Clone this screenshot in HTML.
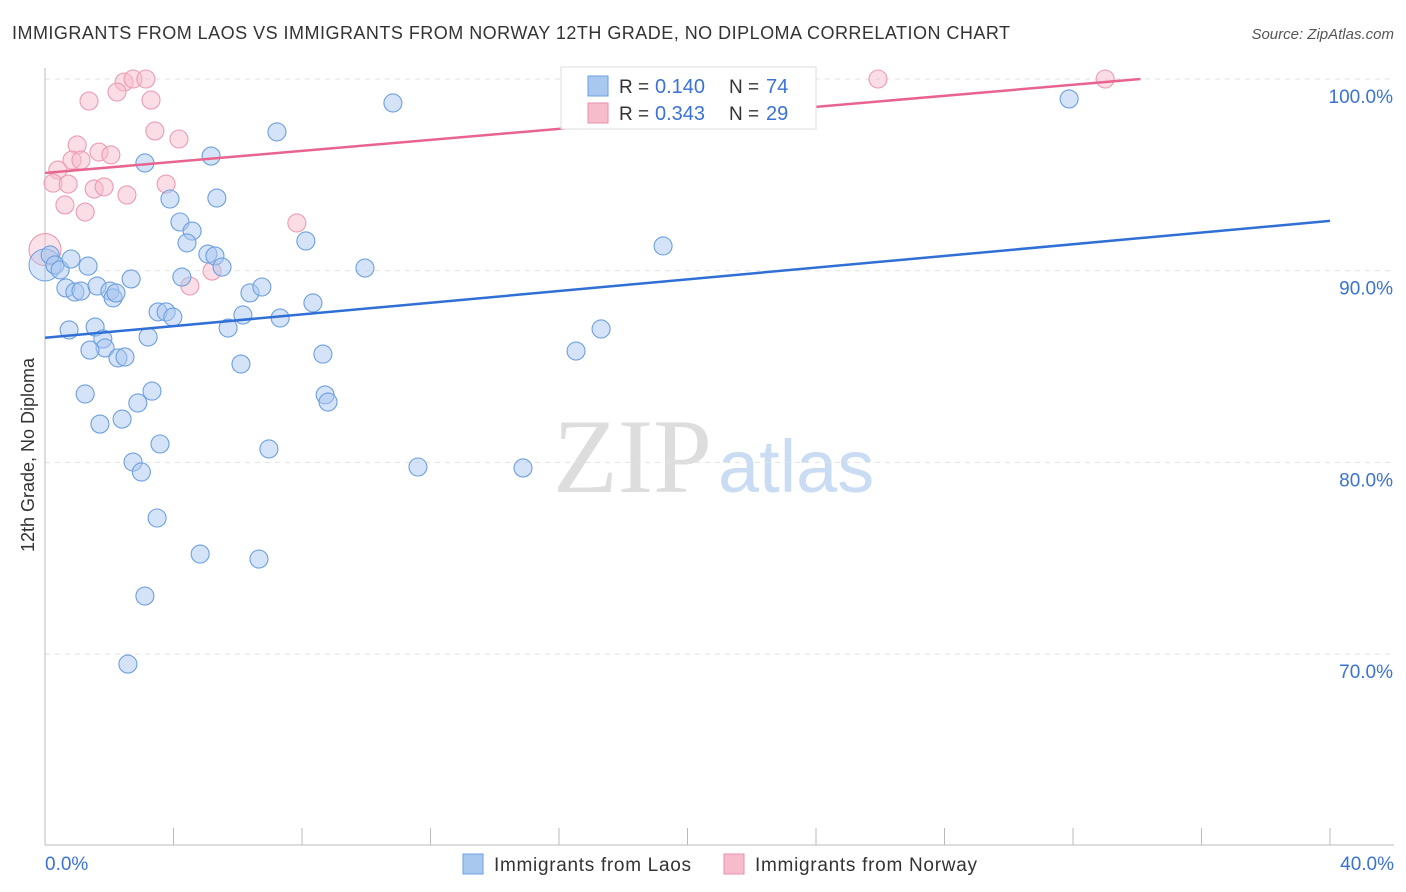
<!DOCTYPE html>
<html><head><meta charset="utf-8"><style>
body{margin:0;background:#fff;font-family:"Liberation Sans",sans-serif;}
svg{display:block}
</style></head><body>
<svg id="c" width="1406" height="892">
<text x="12" y="39" font-size="18" fill="#333" textLength="998">IMMIGRANTS FROM LAOS VS IMMIGRANTS FROM NORWAY 12TH GRADE, NO DIPLOMA CORRELATION CHART</text>
<text x="1394" y="39" font-size="15" fill="#555" text-anchor="end" font-style="italic">Source: ZipAtlas.com</text>
<text x="553" y="492" font-size="106" fill="#ddd" font-family="Liberation Serif">ZIP</text>
<text x="718" y="492" font-size="74" fill="#c9dcf3">atlas</text>
<text transform="translate(34,455) rotate(-90)" font-size="18" fill="#333" text-anchor="middle">12th Grade, No Diploma</text>
<g id="grid"></g><g id="pts"></g><g id="lines"></g>
<g>
<rect x="561" y="67" width="255" height="62" fill="#fff" stroke="#ddd"/>
<rect x="588" y="76" width="20" height="20" fill="#a9c8f0" stroke="#6d9fe0"/>
<text x="619" y="93" font-size="19" fill="#333">R =</text><text x="655" y="93" font-size="20" fill="#3a72d6">0.140</text>
<text x="729" y="93" font-size="19" fill="#333">N =</text><text x="766" y="93" font-size="20" fill="#3a72d6">74</text>
<rect x="588" y="103" width="20" height="20" fill="#f7bccc" stroke="#e98fab"/>
<text x="619" y="120" font-size="19" fill="#333">R =</text><text x="655" y="120" font-size="20" fill="#3a72d6">0.343</text>
<text x="729" y="120" font-size="19" fill="#333">N =</text><text x="766" y="120" font-size="20" fill="#3a72d6">29</text>
</g>
<g>
<rect x="463" y="854" width="20" height="20" fill="#a9c8f0" stroke="#6d9fe0"/>
<text x="494" y="871" font-size="19" fill="#333" textLength="197">Immigrants from Laos</text>
<rect x="724" y="854" width="20" height="20" fill="#f7bccc" stroke="#e98fab"/>
<text x="755" y="871" font-size="19" fill="#333" textLength="222">Immigrants from Norway</text>
</g>
</svg>
<script>
const xTicks=[0,4,8,12,16,20,24,28,32,36,40];
const yTicks=[100,90,80,70];
const laosX=[10.83,31.88,7.22,5.17,3.11,3.89,5.35,4.20,4.58,4.42,8.12,19.24,5.07,5.29,5.51,9.96,0.16,0.31,0.47,0.81,1.34,2.68,4.26,0.65,0.93,1.12,1.62,2.02,2.12,2.21,6.38,6.75,8.34,3.52,3.77,3.98,6.16,7.32,5.70,1.56,0.75,1.80,3.21,1.87,1.40,2.27,2.49,17.31,16.53,8.65,6.10,1.25,3.33,8.72,8.81,2.89,2.40,1.71,3.58,6.97,2.74,3.00,11.61,14.88,3.49,4.83,6.66,3.11,2.58];
const laosY=[98.75,98.96,97.24,95.98,95.62,93.74,93.79,92.54,92.07,91.45,91.55,91.29,90.87,90.77,90.19,90.14,90.82,90.30,90.04,90.61,90.24,89.57,89.67,89.10,88.89,88.94,89.20,88.94,88.58,88.84,88.84,89.15,88.32,87.85,87.85,87.58,87.69,87.53,87.01,87.06,86.91,86.44,86.54,85.97,85.86,85.45,85.50,86.96,85.81,85.65,85.13,83.57,83.72,83.52,83.15,83.10,82.26,82.00,80.96,80.70,80.02,79.50,79.76,79.71,77.10,75.22,74.96,73.03,69.48];
const norX=[2.46,2.74,3.14,25.93,33.0,2.24,1.37,3.30,3.42,4.17,1.00,1.68,2.05,0.84,1.12,0.40,0.25,0.72,1.53,1.84,3.77,2.55,0.62,1.25,7.84,5.20,4.51];
const norY=[99.84,100,100,100,100,99.32,98.85,98.90,97.29,96.87,96.56,96.19,96.04,95.77,95.77,95.25,94.57,94.52,94.26,94.37,94.52,93.95,93.43,93.06,92.49,89.98,89.20];
const laosTrend=[[0,86.5],[40,92.6]];
const norTrend=[[0,95.1],[34.1,100]];
const X=v=>45+v/40*1285, Y=v=>79+(100-v)*19.17;
const NS="http://www.w3.org/2000/svg";
function mk(p,t,a){const e=document.createElementNS(NS,t);for(const k in a)e.setAttribute(k,a[k]);document.getElementById(p).appendChild(e);return e;}
yTicks.forEach(v=>{
 const l=mk('grid','line',{x1:45,x2:1394,y1:Y(v),y2:Y(v),stroke:'#e2e2e2','stroke-dasharray':'5,5'});
 
 
 const t=mk('grid','text',{x:1393,y:Y(v)+24,'font-size':19,fill:'#3a72d6','text-anchor':'end'});
 t.textContent=v.toFixed(1)+'%';
 
 
});
mk('grid','line',{x1:45,x2:45,y1:68,y2:845,stroke:'#bbb'});
mk('grid','line',{x1:45,x2:1394,y1:845,y2:845,stroke:'#bbb'});
xTicks.forEach(v=>{
 const l=mk('grid','line',{x1:X(v),x2:X(v),y1:828,y2:845,stroke:'#bbb'});
 
 
});
[[0,'0.0%','start',45],[40,'40.0%','end',1394]].forEach(a=>{
 const t=mk('grid','text',{x:a[3],y:870,'font-size':19,fill:'#3a72d6','text-anchor':a[2]});
 t.textContent=a[1];
 
 
});
function big(x,y,f,s){const c=mk('pts','circle',{cx:X(x),cy:Y(y),r:16,fill:f,'fill-opacity':0.45,stroke:s});}
big(0,91.1,'#f7bccc','#e98fab');big(0,90.3,'#a9c8f0','#6d9fe0');
norX.forEach((x,i)=>{
 const c=mk('pts','circle',{cx:X(x),cy:Y(norY[i]),r:9,fill:'#f7bccc','fill-opacity':0.5,stroke:'#ec9bb4','stroke-width':1.1});
 
 
});
laosX.forEach((x,i)=>{
 const c=mk('pts','circle',{cx:X(x),cy:Y(laosY[i]),r:9,fill:'#a9c8f0','fill-opacity':0.5,stroke:'#6d9fe0','stroke-width':1.1});
 
 
});
const lt=mk('lines','line',{x1:X(laosTrend[0][0]),y1:Y(laosTrend[0][1]),x2:X(laosTrend[1][0]),y2:Y(laosTrend[1][1]),stroke:'#2f6fd6','stroke-width':2.5});


const nt=mk('lines','line',{x1:X(norTrend[0][0]),y1:Y(norTrend[0][1]),x2:X(norTrend[1][0]),y2:Y(norTrend[1][1]),stroke:'#e8648e','stroke-width':2.5});


</script>
</body></html>
